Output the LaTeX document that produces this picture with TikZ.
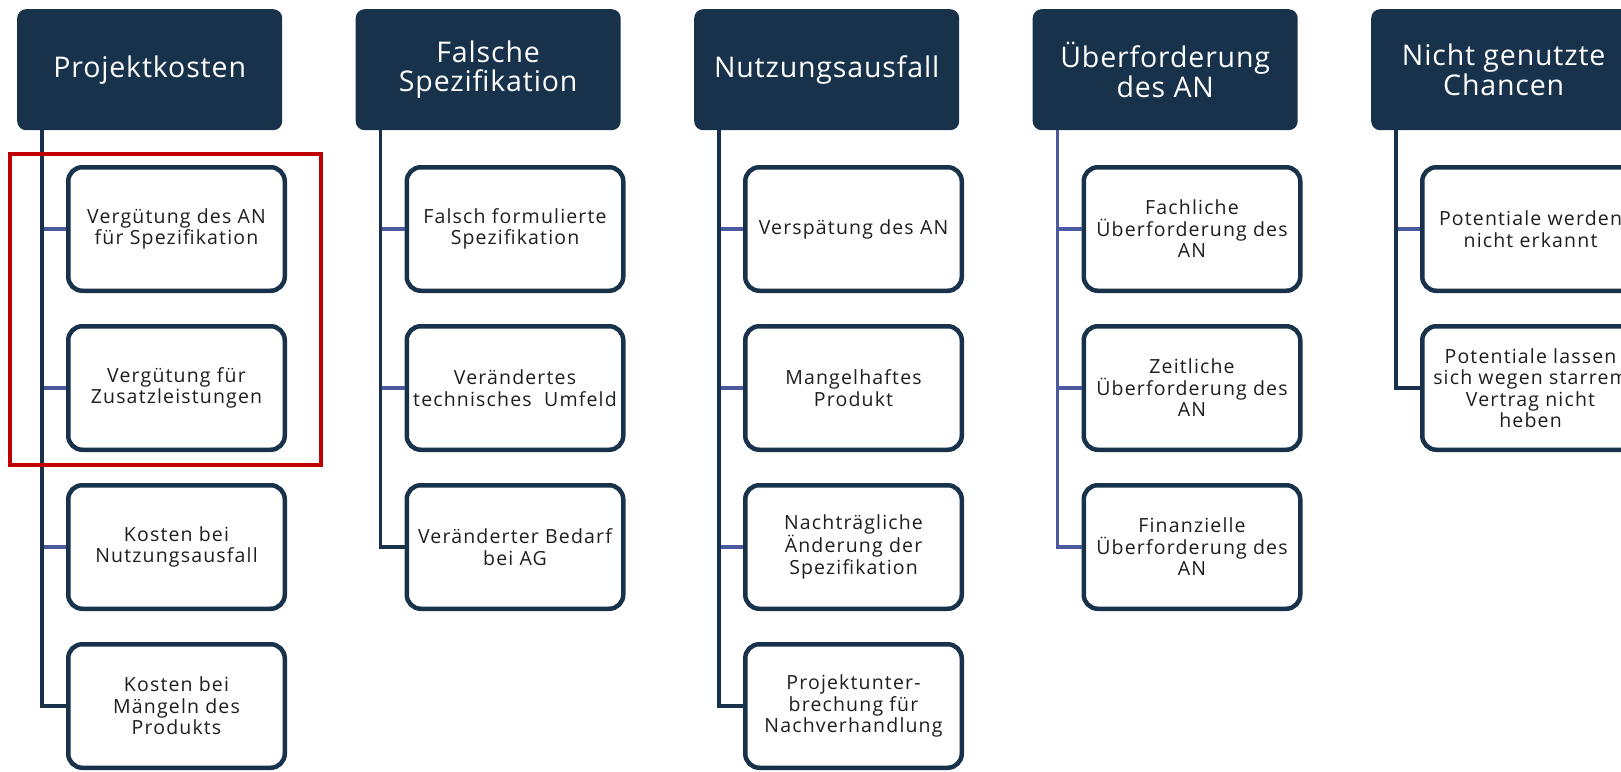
\documentclass[tikz,border=0pt]{standalone}
\usepackage{fontspec}
\setmainfont{Open Sans}
\newfontfamily\itemfont[LetterSpace=6]{Open Sans}
\newfontfamily\headfont[LetterSpace=3]{Open Sans}
\definecolor{navy}{HTML}{17324A}
\definecolor{twigblue}{HTML}{4B5A9E}
\definecolor{alert}{HTML}{C00000}
\definecolor{ink}{HTML}{1E1E1E}
\begin{document}
\begin{tikzpicture}[x=1pt,y=-1pt,
  head/.style={fill=navy, rounded corners=9pt, minimum width=265pt, minimum height=121pt,
    anchor=north west, text=white, font=\headfont\fontsize{28.5}{29.5}\selectfont, align=center, inner sep=0pt},
  item/.style={draw=navy, line width=4.5pt, fill=white, rounded corners=14pt,
    minimum width=216.5pt, minimum height=123.5pt, anchor=north west, text=ink,
    font=\itemfont\fontsize{19.5}{21.5}\selectfont, align=center, inner sep=0pt},
  trunk/.style={draw=navy, line width=3.5pt},
  twig/.style={draw=twigblue, line width=3.5pt},
  frame/.style={draw=alert, line width=4pt}]
\useasboundingbox (0,0) rectangle (1621,771);

% column headers
\node[head] (h1) at (17,9)     {Projektkosten};
\node[head] (h2) at (355.5,9)  {Falsche\\Spezifikation};
\node[head] (h3) at (694,9)    {Nutzungsausfall};
\node[head] (h4) at (1032.5,9) {Überforderung\\des AN};
\node[head] (h5) at (1371,9)   {Nicht genutzte\\Chancen};

% trunk start points below each header
\foreach \i in {1,...,5} \coordinate (t\i) at ([xshift=25pt]h\i.south west);

% column 1
\node[item] (c11) at (66,165) {Vergütung des AN\\für Spezifikation};
\node[item] (c12) at (66,324) {Vergütung für\\Zusatzleistungen};
\node[item] (c13) at (66,483) {Kosten bei\\Nutzungsausfall};
\node[item] (c14) at (66,642) {Kosten bei\\Mängeln des\\Produkts};

% column 2
\node[item] (c21) at (404.5,165) {Falsch formulierte\\Spezifikation};
\node[item] (c22) at (404.5,324) {Verändertes\\technisches~ Umfeld};
\node[item] (c23) at (404.5,483) {Veränderter Bedarf\\bei AG};

% column 3
\node[item] (c31) at (743,165) {Verspätung des AN};
\node[item] (c32) at (743,324) {Mangelhaftes\\Produkt};
\node[item] (c33) at (743,483) {Nachträgliche\\Änderung der\\Spezifikation};
\node[item] (c34) at (743,642) {Projektunter-\\brechung für\\Nachverhandlung};

% column 4
\node[item] (c41) at (1081.5,165) {Fachliche\\Überforderung des\\AN};
\node[item] (c42) at (1081.5,324) {Zeitliche\\Überforderung des\\AN};
\node[item] (c43) at (1081.5,483) {Finanzielle\\Überforderung des\\AN};

% column 5
\node[item] (c51) at (1420,165) {Potentiale werden\\nicht erkannt};
\node[item] (c52) at (1420,324) {Potentiale lassen\\sich wegen starrem\\Vertrag nicht\\heben};

% side branches
\foreach \n in {c11,c12,c13} \draw[twig] (t1 |- \n.west) -- (\n.west);
\foreach \n in {c21,c22} \draw[twig] (t2 |- \n.west) -- (\n.west);
\foreach \n in {c31,c32,c33} \draw[twig] (t3 |- \n.west) -- (\n.west);
\foreach \n in {c41,c42} \draw[twig] (t4 |- \n.west) -- (\n.west);
\draw[twig] (t5 |- c51.west) -- (c51.west);

% trunks ending in an elbow to the last item
\draw[trunk] (t1) |- (c14.west);
\draw[trunk] (t2) |- (c23.west);
\draw[trunk] (t3) |- (c34.west);
\draw[twig]  (t4) |- (c43.west);
\draw[trunk] (t5) |- (c52.west);

% highlight around the first two cost items
\draw[frame] (10,154) rectangle (321,465);
\end{tikzpicture}
\end{document}
